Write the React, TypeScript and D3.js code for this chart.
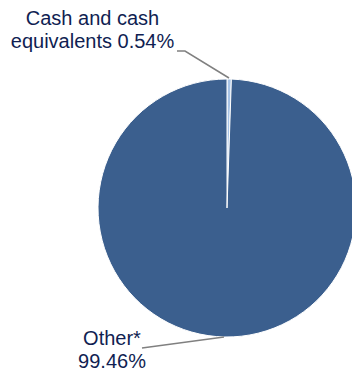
import React from "react";
import * as d3 from "d3";

const categories = ["Cash and cash equivalents", "Other*"];
const values = [0.54, 99.46];
const labelLines = [
  ["Cash and cash", "equivalents 0.54%"],
  ["Other*", "99.46%"],
];
const colors = ["#A7C3E6", "#3B5F8E"];

export default function App() {
  const W = 352, H = 371;
  const cx = 227, cy = 208, r = 129;
  const pie = d3.pie<number>().sort(null).value((d) => d);
  const arcs = pie(values);
  const arc = d3.arc<d3.PieArcDatum<number>>().innerRadius(0).outerRadius(r);
  const textColor = "#101E52";
  return (
    <svg width={W} height={H} style={{ position: "absolute", left: 0, top: 0 }}>
      <g transform={`translate(${cx},${cy})`}>
        {arcs.map((a, i) => (
          <path key={i} d={arc(a) || ""} fill={colors[i]} stroke="#fff" strokeWidth={1} />
        ))}
      </g>
      <polyline points="177,51 185,51 229,78" fill="none" stroke="#808080" strokeWidth={1.5} />
      <polyline points="142,348 224,337" fill="none" stroke="#808080" strokeWidth={1.5} />
      <g fontFamily="Liberation Sans, Arial, sans-serif" fontSize={20} fill={textColor} textAnchor="middle">
        <text x={92.5} y={25}>{labelLines[0][0]}</text>
        <text x={92.5} y={48}>{labelLines[0][1]}</text>
        <text x={112} y={345}>{labelLines[1][0]}</text>
        <text x={112} y={368}>{labelLines[1][1]}</text>
      </g>
    </svg>
  );
}
